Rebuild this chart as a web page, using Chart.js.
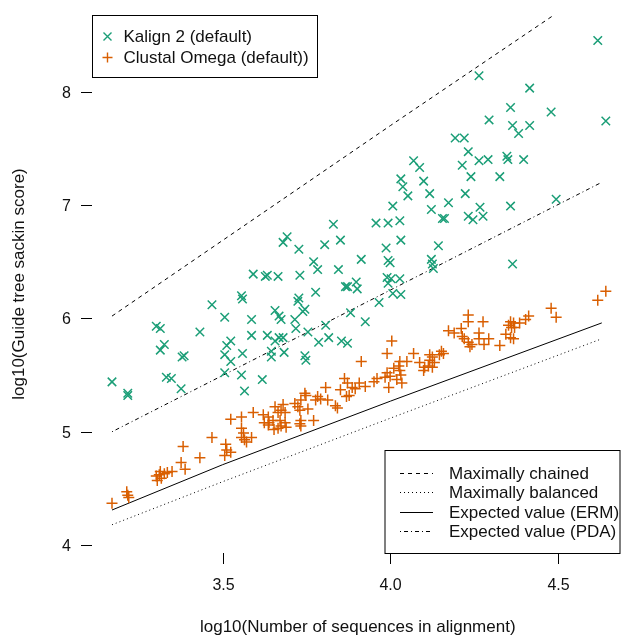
<!DOCTYPE html>
<html>
<head>
<meta charset="utf-8">
<script src="https://cdn.jsdelivr.net/npm/chart.js@4.4.0/dist/chart.umd.min.js"></script>
<style>
  html, body { margin: 0; padding: 0; background: #fff; }
</style>
</head>
<body>
<canvas id="chart" width="627" height="637"></canvas>
<script>
// Kalign 2 (default): log10(n sequences), log10(sackin score)
const kalignX = [
  3.591, 3.627, 3.633, 3.665, 3.556, 3.559, 3.468, 3.506, 3.586, 3.656,
  3.668, 3.674, 3.302, 3.314, 3.432, 3.586, 3.633, 3.656, 3.668, 3.680,
  3.524, 3.512, 3.326, 3.314, 3.506, 3.524, 3.559, 3.645, 3.645, 3.385,
  3.379, 3.170, 3.217, 3.217, 3.332, 3.347, 3.376, 3.506, 3.556, 3.618,
  3.565, 4.031, 4.037, 4.099, 4.052, 4.117, 4.007, 4.122, 3.830, 3.957,
  3.993, 4.028, 3.692, 3.680, 3.727, 3.804, 3.851, 4.031, 3.987, 3.913,
  3.993, 3.999, 4.122, 4.125, 4.128, 3.771, 3.783, 3.845, 3.730, 3.990,
  4.002, 4.028, 3.993, 3.898, 3.872, 3.866, 3.901, 3.777, 4.007, 4.031,
  3.727, 3.724, 3.966, 3.745, 3.739, 3.715, 3.881, 3.718, 3.807, 3.925,
  3.754, 3.786, 3.816, 3.854, 3.872, 3.683, 3.745, 3.748, 4.358, 4.294,
  4.364, 4.193, 4.220, 4.232, 4.069, 4.087, 4.214, 4.264, 4.291, 4.347,
  4.350, 4.240, 4.326, 4.223, 4.173, 4.267, 4.358, 4.232, 4.246, 4.276,
  4.155, 4.161, 4.143, 4.364, 4.618, 4.264, 4.415, 4.479, 4.642, 4.382,
  4.415, 4.397, 4.494
];
const kalignY = [
  6.39, 6.37, 6.38, 6.37, 6.20, 6.17, 6.12, 6.01, 5.99, 6.07,
  6.02, 5.99, 5.93, 5.91, 5.88, 5.85, 5.85, 5.80, 5.83, 5.83,
  5.80, 5.76, 5.77, 5.72, 5.68, 5.62, 5.69, 5.71, 5.66, 5.67,
  5.66, 5.44, 5.34, 5.32, 5.48, 5.47, 5.38, 5.52, 5.50, 5.46,
  5.36, 7.23, 7.16, 7.21, 7.08, 7.10, 6.99, 6.96, 6.83, 6.84,
  6.84, 6.86, 6.72, 6.67, 6.61, 6.65, 6.69, 6.69, 6.62, 6.52,
  6.51, 6.49, 6.52, 6.48, 6.44, 6.50, 6.43, 6.43, 6.38, 6.36,
  6.35, 6.35, 6.31, 6.32, 6.28, 6.28, 6.26, 6.23, 6.22, 6.21,
  6.18, 6.15, 6.14, 6.08, 6.06, 5.99, 6.05, 5.91, 5.94, 5.97,
  5.88, 5.79, 5.83, 5.80, 5.78, 5.70, 5.67, 5.63, 7.86, 7.75,
  7.70, 7.59, 7.59, 7.47, 7.39, 7.33, 7.35, 7.39, 7.40, 7.43,
  7.40, 7.25, 7.25, 7.10, 7.02, 6.98, 6.99, 6.90, 6.87, 6.90,
  6.88, 6.88, 6.64, 6.48, 8.45, 8.14, 8.03, 7.82, 7.74, 7.63,
  7.70, 7.40, 7.05
];

// Clustal Omega (default)
const clustalX = [
  3.170, 3.214, 3.217, 3.220, 3.302, 3.311, 3.317, 3.305, 3.326, 3.335,
  3.349, 3.314, 3.376, 3.388, 3.382, 3.432, 3.468, 3.509, 3.524, 3.512,
  3.506, 3.524, 3.556, 3.591, 3.556, 3.562, 3.556, 3.586, 3.565, 3.571,
  3.621, 3.636, 3.638, 3.650, 3.624, 3.636, 3.671, 3.686, 3.674, 3.665,
  3.689, 3.653, 3.656, 3.733, 3.730, 3.733, 3.680, 3.674, 3.665, 3.686,
  3.715, 3.724, 3.730, 3.754, 3.771, 3.745, 3.748, 3.733, 3.783, 3.792,
  3.777, 3.813, 3.836, 3.842, 3.807, 3.851, 3.877, 3.869, 3.863, 3.872,
  3.886, 3.895, 3.907, 3.925, 3.960, 3.951, 3.995, 4.010, 3.990, 3.999,
  3.984, 4.019, 4.034, 4.028, 4.025, 4.028, 4.031, 4.049, 3.913, 4.004,
  3.990, 4.069, 4.087, 4.102, 4.099, 4.117, 4.125, 4.117, 4.131, 4.113,
  4.125, 4.152, 4.158, 4.146, 4.173, 4.190, 4.211, 4.214, 4.264, 4.264,
  4.220, 4.232, 4.243, 4.237, 4.293, 4.279, 4.276, 4.232, 4.232, 4.326,
  4.344, 4.358, 4.367, 4.358, 4.367, 4.385, 4.352, 4.361, 4.370, 4.412,
  4.403, 4.479, 4.494, 4.618, 4.642
];
const clustalY = [
  4.37, 4.47, 4.44, 4.42, 4.61, 4.62, 4.59, 4.57, 4.63, 4.64,
  4.65, 4.65, 4.73, 4.67, 4.87, 4.77, 4.95, 4.89, 4.82, 4.84,
  4.79, 5.11, 5.13, 5.17, 5.03, 4.99, 4.95, 4.95, 4.93, 4.91,
  5.15, 5.13, 5.08, 5.10, 5.08, 5.06, 5.10, 5.08, 5.05, 5.03,
  5.04, 5.02, 5.22, 5.10, 5.07, 5.05, 5.24, 5.19, 5.17, 5.17,
  5.25, 5.22, 5.19, 5.20, 5.10, 5.34, 5.32, 5.28, 5.31, 5.29,
  5.28, 5.28, 5.23, 5.21, 5.39, 5.37, 5.32, 5.31, 5.47, 5.43,
  5.39, 5.38, 5.43, 5.40, 5.47, 5.44, 5.39, 5.56, 5.52, 5.49,
  5.48, 5.46, 5.43, 5.62, 5.58, 5.54, 5.50, 5.62, 5.62, 5.80,
  5.69, 5.69, 5.61, 5.57, 5.54, 5.68, 5.66, 5.63, 5.61, 5.58,
  5.57, 5.71, 5.69, 5.68, 5.89, 5.87, 5.91, 5.84, 5.87, 5.82,
  5.82, 5.79, 5.77, 5.75, 5.82, 5.77, 5.97, 6.03, 5.97, 5.76,
  5.86, 5.83, 5.82, 5.97, 5.96, 5.96, 5.94, 5.92, 5.92, 6.02,
  5.99, 6.09, 6.01, 6.16, 6.24
];

// reference curves
const chainedX = [3.17, 4.00, 4.49];
const chainedY = [6.02, 7.70, 8.68];
const balancedX = [3.17, 3.50, 4.00, 4.63];
const balancedY = [4.18, 4.56, 5.12, 5.82];
const ermX = [3.17, 3.50, 4.00, 4.63];
const ermY = [4.31, 4.71, 5.27, 5.96];
const pdaX = [3.17, 4.00, 4.63];
const pdaY = [5.00, 6.25, 7.20];

const xTicks = [3.5, 4.0, 4.5];
const xTickLabels = ['3.5', '4.0', '4.5'];
const yTicks = [4, 5, 6, 7, 8];
const yTickLabels = ['4', '5', '6', '7', '8'];

const GREEN = '#1b9e77';
const ORANGE = '#d95f02';
const FONT = '"Liberation Sans", Arial, Helvetica, sans-serif';

const pts = (xs, ys) => xs.map((x, i) => ({ x: x, y: ys[i] }));

function lineSet(xs, ys, dash) {
    return {
        data: pts(xs, ys),
        showLine: true,
        borderColor: '#000',
        borderWidth: 1,
        borderDash: dash,
        pointRadius: 0,
        fill: false,
        tension: 0
    };
}

// R-style axes: ticks only, no axis line, labels + titles
const rAxes = {
    id: 'rAxes',
    afterDraw(chart) {
        const { ctx, chartArea: a, scales: { x, y } } = chart;
        ctx.save();
        ctx.strokeStyle = '#000';
        ctx.fillStyle = '#111';
        ctx.lineWidth = 1;
        ctx.font = '16px ' + FONT;

        ctx.textAlign = 'center';
        ctx.textBaseline = 'middle';
        xTicks.forEach((v, i) => {
            const px = Math.round(x.getPixelForValue(v)) + 0.5;
            ctx.beginPath();
            ctx.moveTo(px, a.bottom);
            ctx.lineTo(px, a.bottom + 11);
            ctx.stroke();
            ctx.fillText(xTickLabels[i], px, a.bottom + 33);
        });

        ctx.textAlign = 'right';
        yTicks.forEach((v, i) => {
            const py = Math.round(y.getPixelForValue(v)) + 0.5;
            ctx.beginPath();
            ctx.moveTo(a.left, py);
            ctx.lineTo(a.left - 11, py);
            ctx.stroke();
            ctx.fillText(yTickLabels[i], a.left - 21, py + 1);
        });

        ctx.font = '17px ' + FONT;
        ctx.textAlign = 'center';
        ctx.fillText('log10(Number of sequences in alignment)', (a.left + a.right) / 2 + 2, a.bottom + 74);
        ctx.translate(19, (a.top + a.bottom) / 2);
        ctx.rotate(-Math.PI / 2);
        ctx.fillText('log10(Guide tree sackin score)', 0, 0);
        ctx.restore();

        drawLegends(chart);
    }
};

function drawLegends(chart) {
    const { ctx, chartArea: a } = chart;
    ctx.save();
    ctx.font = '17px ' + FONT;
    ctx.textAlign = 'left';
    ctx.textBaseline = 'middle';

    // top-left: series
    let bx = a.left + 0.5, by = a.top + 0.5, bw = 225, bh = 62;
    ctx.fillStyle = '#fff';
    ctx.fillRect(bx, by, bw, bh);
    ctx.strokeStyle = '#000';
    ctx.lineWidth = 1;
    ctx.strokeRect(bx, by, bw, bh);

    const mx = bx + 15;
    let my = by + 21;
    ctx.lineWidth = 1.4;
    ctx.strokeStyle = GREEN;
    ctx.beginPath();
    ctx.moveTo(mx - 4, my - 4); ctx.lineTo(mx + 4, my + 4);
    ctx.moveTo(mx - 4, my + 4); ctx.lineTo(mx + 4, my - 4);
    ctx.stroke();
    ctx.fillStyle = '#111';
    ctx.fillText('Kalign 2 (default)', bx + 31, my + 1);

    my = by + 42;
    ctx.strokeStyle = ORANGE;
    ctx.beginPath();
    ctx.moveTo(mx - 5, my); ctx.lineTo(mx + 5, my);
    ctx.moveTo(mx, my - 5); ctx.lineTo(mx, my + 5);
    ctx.stroke();
    ctx.fillText('Clustal Omega (default))', bx + 31, my + 1);

    // bottom-right: reference curves
    bw = 235; bh = 103;
    bx = a.right - bw + 0.5; by = a.bottom - bh + 0.5;
    ctx.fillStyle = '#fff';
    ctx.fillRect(bx, by, bw, bh);
    ctx.strokeStyle = '#000';
    ctx.lineWidth = 1;
    ctx.setLineDash([]);
    ctx.strokeRect(bx, by, bw, bh);

    const rows = [
        ['Maximally chained', [4, 4]],
        ['Maximally balanced', [1, 3]],
        ['Expected value (ERM)', []],
        ['Expected value (PDA)', [1, 3, 4, 3]]
    ];
    rows.forEach((r, i) => {
        const ry = Math.round(by + 22 + i * 19.5) + 0.5;
        ctx.strokeStyle = '#000';
        ctx.setLineDash(r[1]);
        ctx.beginPath();
        ctx.moveTo(bx + 15, ry);
        ctx.lineTo(bx + 48, ry);
        ctx.stroke();
        ctx.setLineDash([]);
        ctx.fillStyle = '#111';
        ctx.fillText(r[0], bx + 64, ry + 1);
    });
    ctx.restore();
}

new Chart(document.getElementById('chart'), {
    type: 'scatter',
    data: {
        datasets: [
            {
                label: 'Kalign 2 (default)',
                data: pts(kalignX, kalignY),
                pointStyle: 'crossRot',
                pointRadius: 6,
                pointBorderWidth: 1.5,
                borderColor: GREEN,
                backgroundColor: GREEN
            },
            {
                label: 'Clustal Omega (default))',
                data: pts(clustalX, clustalY),
                pointStyle: 'cross',
                pointRadius: 5.5,
                pointBorderWidth: 1.5,
                borderColor: ORANGE,
                backgroundColor: ORANGE
            },
            lineSet(chainedX, chainedY, [4, 4]),
            lineSet(balancedX, balancedY, [1, 3]),
            lineSet(ermX, ermY, []),
            lineSet(pdaX, pdaY, [1, 3, 4, 3])
        ]
    },
    options: {
        responsive: false,
        animation: false,
        layout: { padding: { left: 92, right: 2, top: 15, bottom: 84 } },
        plugins: {
            legend: { display: false },
            tooltip: { enabled: false }
        },
        scales: {
            x: { type: 'linear', min: 3.1104, max: 4.6828, display: false },
            y: { type: 'linear', min: 3.931, max: 8.675, display: false }
        }
    },
    plugins: [rAxes]
});
</script>
</body>
</html>
